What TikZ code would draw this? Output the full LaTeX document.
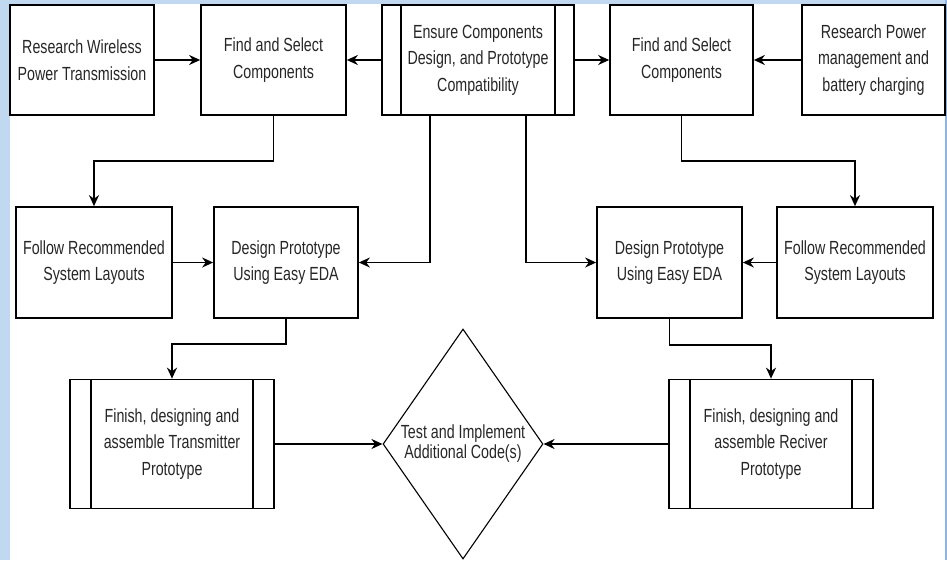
\documentclass[tikz,border=0pt]{standalone}
\usepackage{fontspec}
\setmainfont[FakeStretch=0.75]{Liberation Sans}
\usetikzlibrary{shapes.geometric, arrows.meta}

\definecolor{bandblue}{RGB}{192,216,240}
\definecolor{edgeblue}{RGB}{142,180,226}

\begin{document}
\begin{tikzpicture}[
    x=1pt, y=-1pt,
    font=\fontsize{19}{26.5}\selectfont,
    box/.style={draw, line width=1.7pt, minimum height=110pt, inner sep=0pt, align=center, text=black!85},
    proc/.style={box, path picture={
        \draw[line width=1.2pt]
          ([xshift=#1]path picture bounding box.north west) -- ([xshift=#1]path picture bounding box.south west)
          ([xshift=-#1]path picture bounding box.north east) -- ([xshift=-#1]path picture bounding box.south east);}},
    decision/.style={draw, diamond, line width=1.1pt, inner sep=0pt, aspect=0.69, align=center, text=black!85,
        minimum width=160pt, minimum height=230pt, font=\fontsize{19}{20}\selectfont},
    arrow/.style={-{Stealth[length=11pt, width=10pt]}, line width=1.7pt}
  ]

  % page frame
  \useasboundingbox (0,0) rectangle (947,560);
  \fill[bandblue] (0,0) rectangle (10,560);
  \fill[bandblue] (0,0) rectangle (947,4);
  \fill[edgeblue] (945,0) rectangle (947,560);

  % top row
  \node[box, minimum width=144pt] (rwpt) at (82,60) {Research Wireless\\Power Transmission};
  \node[box, minimum width=145pt] (findL) at (273.5,60) {Find and Select\\Components};
  \node[proc=19pt, minimum width=192pt] (ensure) at (478,60) {Ensure Components\\Design, and Prototype\\Compatibility};
  \node[box, minimum width=143pt] (findR) at (681.5,60) {Find and Select\\Components};
  \node[box, minimum width=143pt] (rpm) at (873.5,60) {Research Power\\management and\\battery charging};

  % middle row
  \node[box, minimum width=156pt, minimum height=111pt] (followL) at (94,262.5) {Follow Recommended\\System Layouts};
  \node[box, minimum width=144pt, minimum height=111pt] (designL) at (286,262.5) {Design Prototype\\Using Easy EDA};
  \node[box, minimum width=145pt, minimum height=111pt] (designR) at (669.5,262.5) {Design Prototype\\Using Easy EDA};
  \node[box, minimum width=156pt, minimum height=111pt] (followR) at (855,262.5) {Follow Recommended\\System Layouts};

  % bottom row
  \node[proc=21pt, minimum width=204pt, minimum height=129pt] (finishL) at (172,444) {Finish, designing and\\assemble Transmitter\\Prototype};
  \node[decision] (test) at (463,444) {Test and Implement\\Additional Code(s)};
  \node[proc=21pt, minimum width=204pt, minimum height=129pt] (finishR) at (771,444) {Finish, designing and\\assemble Reciver\\Prototype};

  % flow
  \draw[arrow] (rwpt) -- (findL);
  \draw[arrow] (ensure) -- (findL);
  \draw[arrow] (ensure) -- (findR);
  \draw[arrow] (rpm) -- (findR);
  \draw[arrow] (findL.south) -- ++(0,45) -| (followL.north);
  \draw[arrow] (findR.south) -- ++(0,45) -| (followR.north);
  \draw[arrow] ([xshift=-48pt]ensure.south) |- (designL);
  \draw[arrow] ([xshift=48pt]ensure.south) |- (designR);
  \draw[arrow] (followL) -- (designL);
  \draw[arrow] (followR) -- (designR);
  \draw[arrow] (designL.south) -- ++(0,25) -| (finishL.north);
  \draw[arrow] (designR.south) -- ++(0,26) -| (finishR.north);
  \draw[arrow] (finishL) -- (test);
  \draw[arrow] (finishR) -- (test);

\end{tikzpicture}
\end{document}
